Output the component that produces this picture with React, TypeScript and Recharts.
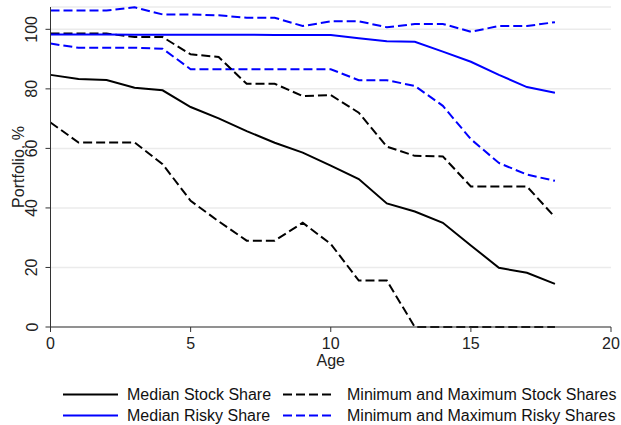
import { LineChart, Line, XAxis, YAxis, CartesianGrid, Label } from 'recharts'

const ages = [0, 1, 2, 3, 4, 5, 6, 7, 8, 9, 10, 11, 12, 13, 14, 15, 16, 17, 18]

const medianStock = [84.7, 83.3, 83.0, 80.4, 79.5, 73.9, 70.1, 65.8, 61.9, 58.6, 54.2, 49.7, 41.5, 38.8, 35.0, 27.4, 19.9, 18.2, 14.5]
const minStock = [68.7, 62.0, 62.0, 62.0, 54.7, 42.4, 35.5, 29.0, 29.0, 35.0, 27.9, 15.6, 15.6, 0, 0, 0, 0, 0, 0]
const maxStock = [98.6, 98.6, 98.6, 97.4, 97.4, 91.6, 90.7, 81.7, 81.7, 77.6, 77.9, 72.0, 60.6, 57.5, 57.3, 47.2, 47.2, 47.2, 36.9]

const medianRisky = [98.3, 98.3, 98.3, 98.2, 98.2, 98.2, 98.2, 98.2, 98.1, 98.1, 98.1, 97.0, 96.0, 95.8, 92.5, 89.1, 84.7, 80.6, 78.7]
const minRisky = [95.2, 93.8, 93.8, 93.8, 93.5, 86.6, 86.6, 86.6, 86.6, 86.6, 86.6, 82.9, 82.9, 81.0, 74.3, 63.1, 55.1, 51.2, 49.1]
const maxRisky = [106.3, 106.3, 106.3, 107.4, 105.0, 105.0, 104.7, 103.9, 103.9, 101.1, 102.7, 102.7, 100.7, 101.8, 101.8, 99.2, 101.1, 101.1, 102.4]

const xTicks = [0, 5, 10, 15, 20]
const yTicks = [0, 20, 40, 60, 80, 100]

const legendItems = [
    { label: 'Median Stock Share', color: '#000', dashed: false },
    { label: 'Minimum and Maximum Stock Shares', color: '#000', dashed: true },
    { label: 'Median Risky Share', color: '#0000ff', dashed: false },
    { label: 'Minimum and Maximum Risky Shares', color: '#0000ff', dashed: true },
]

const FONT = '"Liberation Sans", Arial, sans-serif'
const DASH = '9 4'

const data = ages.map((age, i) => ({
    age,
    medianStock: medianStock[i],
    minStock: minStock[i],
    maxStock: maxStock[i],
    medianRisky: medianRisky[i],
    minRisky: minRisky[i],
    maxRisky: maxRisky[i],
}))

// rotated y tick labels, as in the original
function YTick({ y, payload }: any) {
    const cx = 32
    return (
        <text x={cx} y={y} transform={`rotate(-90, ${cx}, ${y})`} textAnchor="middle"
            dominantBaseline="central" fontSize={16} fill="#222" fontFamily={FONT}>
            {payload.value}
        </text>
    )
}

function LegendBox() {
    const rows = [[legendItems[0], legendItems[1]], [legendItems[2], legendItems[3]]]
    return (
        <div style={{ position: 'absolute', left: 0, top: 384, width: 621, fontFamily: FONT, fontSize: 16, color: '#111' }}>
            {rows.map((row, r) => (
                <div key={r} style={{ position: 'relative', height: 21 }}>
                    {row.map((item, c) => {
                        const left = c === 0 ? 63 : 283
                        const w = c === 0 ? 55 : 50
                        const textLeft = c === 0 ? 127 : 347
                        return (
                            <div key={c}>
                                <svg width={w} height={21} style={{ position: 'absolute', left, top: 0 }}>
                                    <line x1={0} x2={w} y1={10.5} y2={10.5} stroke={item.color} strokeWidth={2}
                                        strokeDasharray={item.dashed ? DASH : undefined} />
                                </svg>
                                <span style={{ position: 'absolute', left: textLeft, top: 1, lineHeight: '19px', whiteSpace: 'nowrap' }}>
                                    {item.label}
                                </span>
                            </div>
                        )
                    })}
                </div>
            ))}
        </div>
    )
}

export default function App() {
    return (
        <div style={{ position: 'absolute', left: 0, top: 0, width: 621, height: 425, background: '#fff', fontFamily: FONT }}>
            <LineChart width={621} height={425} data={data} margin={{ top: 7, right: 10, left: 0, bottom: 0 }}>
                <CartesianGrid vertical={false} stroke="#ebebeb" strokeWidth={1.5} />
                <XAxis dataKey="age" type="number" domain={[0, 20]} ticks={xTicks} height={98}
                    stroke="#333" tickSize={5} tickMargin={6}
                    tick={{ fontSize: 16, fill: '#222', fontFamily: FONT }}>
                    <Label value="Age" position="insideTop" offset={28} fontSize={16} fill="#222" fontFamily={FONT} />
                </XAxis>
                <YAxis type="number" domain={[0, 107.5]} ticks={yTicks} width={50.5}
                    stroke="#333" tickSize={5} tick={<YTick />}>
                    <Label content={() => (
                        <text x={18} y={167} transform="rotate(-90, 18, 167)" textAnchor="middle"
                            dominantBaseline="central" fontSize={16} fill="#222" fontFamily={FONT}>
                            Portfolio, %
                        </text>
                    )} />
                </YAxis>
                <Line dataKey="maxRisky" stroke="#0000ff" strokeWidth={2} strokeDasharray={DASH} dot={false} isAnimationActive={false} />
                <Line dataKey="minRisky" stroke="#0000ff" strokeWidth={2} strokeDasharray={DASH} dot={false} isAnimationActive={false} />
                <Line dataKey="maxStock" stroke="#000" strokeWidth={2} strokeDasharray={DASH} dot={false} isAnimationActive={false} />
                <Line dataKey="minStock" stroke="#000" strokeWidth={2} strokeDasharray={DASH} dot={false} isAnimationActive={false} />
                <Line dataKey="medianRisky" stroke="#0000ff" strokeWidth={2} dot={false} isAnimationActive={false} />
                <Line dataKey="medianStock" stroke="#000" strokeWidth={2} dot={false} isAnimationActive={false} />
            </LineChart>
            <LegendBox />
        </div>
    )
}
